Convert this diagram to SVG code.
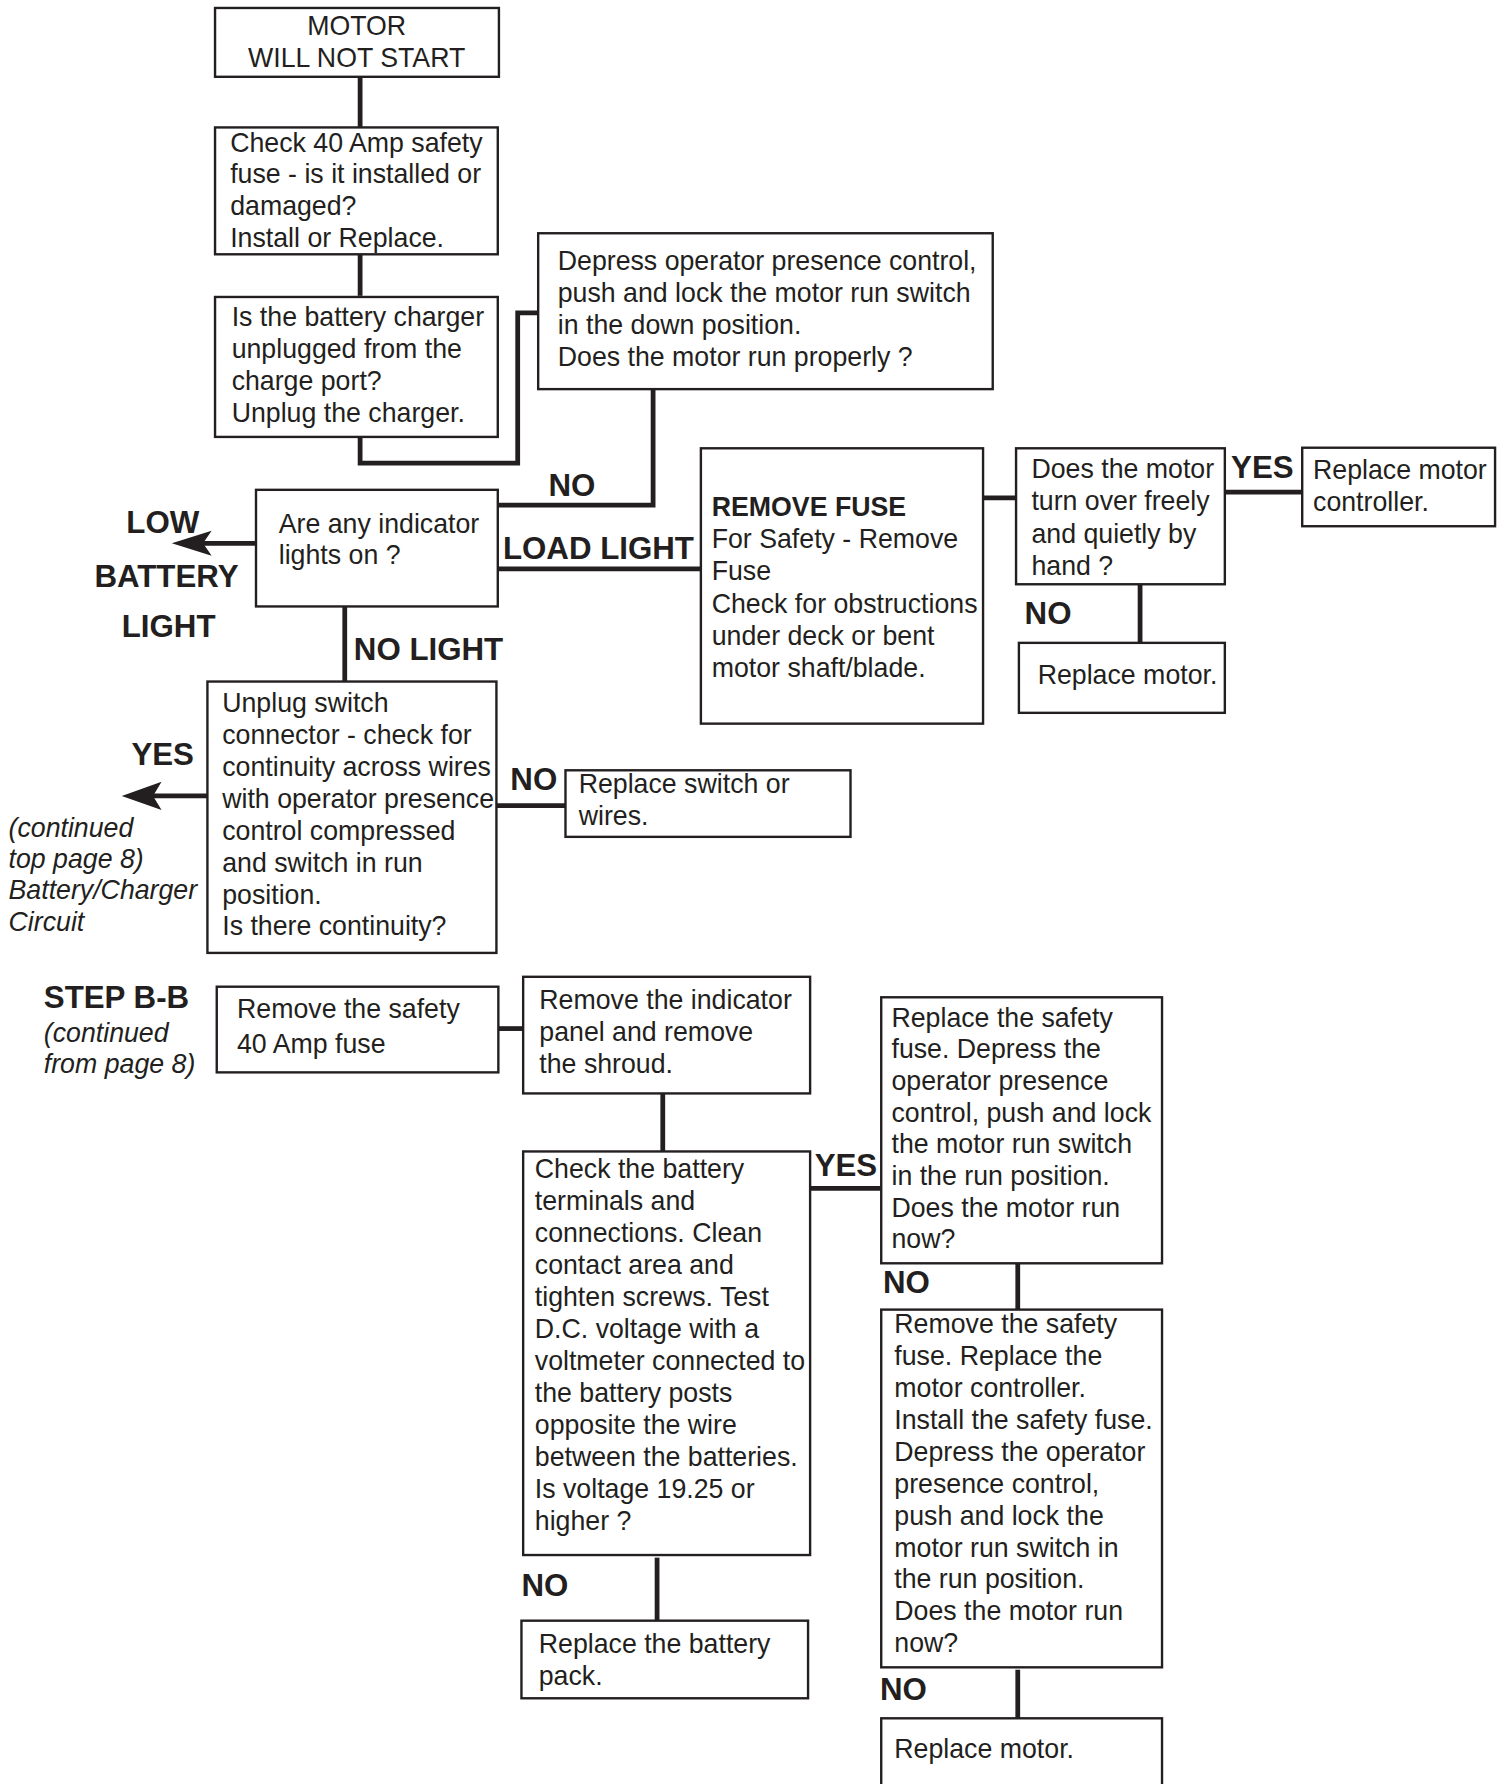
<svg xmlns="http://www.w3.org/2000/svg" width="1506" height="1784" viewBox="0 0 1506 1784">
<style>
.box{fill:#fff;stroke:#231f20;stroke-width:2.1}
.t{font-family:"Liberation Sans",Arial,Helvetica,sans-serif;font-size:23.5px;fill:#231f20}
.b{font-family:"Liberation Sans",Arial,Helvetica,sans-serif;font-size:27.5px;font-weight:bold;fill:#231f20}
.bs{font-weight:bold}
.i{font-style:italic}
.c{fill:none;stroke:#231f20;stroke-width:4.2;stroke-linejoin:miter;stroke-linecap:butt}
.ah{fill:#231f20;stroke:none}
</style>
<rect width="1506" height="1784" fill="#fff"/>
<g transform="scale(1.1378)">
<g id="connectors">
<path class="c" d="M316.5 67.5V112"/>
<path class="c" d="M316.5 223V260"/>
<path class="c" d="M316.5 383V407H455V275H473"/>
<path class="c" d="M574 341V444H437"/>
<path class="c" d="M437 500H616"/>
<path class="c" d="M864 437.5H893"/>
<path class="c" d="M1077 432.5H1144"/>
<path class="c" d="M1002 513V565"/>
<path class="c" d="M303 533V599"/>
<path class="c" d="M436 708H497"/>
<path class="c" d="M224.7 477.5H176"/>
<polygon class="ah" points="151,477.5 186,466.5 178.5,477.5 186,488.5"/>
<path class="c" d="M182 699.5H132"/>
<polygon class="ah" points="107,699.5 142,687 134.5,699.5 142,712"/>
<path class="c" d="M438 904H460"/>
<path class="c" d="M582.5 961V1012"/>
<path class="c" d="M712 1044.5H774"/>
<path class="c" d="M894.5 1110V1151"/>
<path class="c" d="M577.5 1369V1424"/>
<path class="c" d="M894.5 1467.5V1510"/>
</g>
<g id="labels">
<text class="b" x="482" y="436">NO</text>
<text class="b" x="442" y="491">LOAD LIGHT</text>
<text class="b" x="111" y="468.5">LOW</text>
<text class="b" x="83" y="515.5">BATTERY</text>
<text class="b" x="107" y="559.5">LIGHT</text>
<text class="b" x="311" y="580">NO LIGHT</text>
<text class="b" x="1082" y="420">YES</text>
<text class="b" x="900.5" y="548">NO</text>
<text class="b" x="115.5" y="672.5">YES</text>
<text class="b" x="448.5" y="694.5">NO</text>
<text class="t i" x="7.5" y="735.3">(continued</text>
<text class="t i" x="7.5" y="762.8">top page 8)</text>
<text class="t i" x="7.5" y="790.4">Battery/Charger</text>
<text class="t i" x="7.5" y="818">Circuit</text>
<text class="b" x="38.5" y="886.2">STEP B-B</text>
<text class="t i" x="38.5" y="915.5">(continued</text>
<text class="t i" x="38.5" y="943.3">from page 8)</text>
<text class="b" x="716" y="1033.6">YES</text>
<text class="b" x="776" y="1136.7">NO</text>
<text class="b" x="458.3" y="1402.7">NO</text>
<text class="b" x="773.4" y="1494.1">NO</text>
</g>
<g id="n-start">
<rect class="box" x="189" y="7" width="249.5" height="60.5"/>
<text class="t" text-anchor="middle" x="313.5" y="31">MOTOR</text>
<text class="t" text-anchor="middle" x="313.5" y="59">WILL NOT START</text>
</g>
<g id="n-fuse">
<rect class="box" x="189" y="112" width="248.5" height="111.5"/>
<text class="t" x="202.3" y="133.3">Check 40 Amp safety</text>
<text class="t" x="202.3" y="161">fuse - is it installed or</text>
<text class="t" x="202.3" y="189">damaged?</text>
<text class="t" x="202.3" y="217">Install or Replace.</text>
</g>
<g id="n-charger">
<rect class="box" x="189" y="261" width="248.5" height="123"/>
<text class="t" x="203.6" y="286.5">Is the battery charger</text>
<text class="t" x="203.6" y="314.5">unplugged from the</text>
<text class="t" x="203.6" y="342.5">charge port?</text>
<text class="t" x="203.6" y="370.5">Unplug the charger.</text>
</g>
<g id="n-depress">
<rect class="box" x="473" y="205" width="399.5" height="137"/>
<text class="t" x="490.2" y="237.5">Depress operator presence control,</text>
<text class="t" x="490.2" y="265.7">push and lock the motor run switch</text>
<text class="t" x="490.2" y="293.9">in the down position.</text>
<text class="t" x="490.2" y="322.1">Does the motor run properly ?</text>
</g>
<g id="n-indicator">
<rect class="box" x="225" y="430.5" width="212.5" height="102.5"/>
<text class="t" x="245" y="468.2">Are any indicator</text>
<text class="t" x="245" y="495.8">lights on ?</text>
</g>
<g id="n-removefuse">
<rect class="box" x="616" y="394" width="248" height="242"/>
<text class="t bs" x="625.5" y="453.4">REMOVE FUSE</text>
<text class="t" x="625.5" y="481.7">For Safety - Remove</text>
<text class="t" x="625.5" y="510">Fuse</text>
<text class="t" x="625.5" y="538.6">Check for obstructions</text>
<text class="t" x="625.5" y="567">under deck or bent</text>
<text class="t" x="625.5" y="595.4">motor shaft/blade.</text>
</g>
<g id="n-turnover">
<rect class="box" x="893" y="394" width="183.5" height="119.5"/>
<text class="t" x="906.5" y="420">Does the motor</text>
<text class="t" x="906.5" y="448.5">turn over freely</text>
<text class="t" x="906.5" y="477">and quietly by</text>
<text class="t" x="906.5" y="505.5">hand ?</text>
</g>
<g id="n-controller">
<rect class="box" x="1144.5" y="393.5" width="169.5" height="69"/>
<text class="t" x="1154" y="421">Replace motor</text>
<text class="t" x="1154" y="449.5">controller.</text>
</g>
<g id="n-motor1">
<rect class="box" x="895.5" y="565" width="181" height="61.5"/>
<text class="t" x="912" y="601.5">Replace motor.</text>
</g>
<g id="n-unplug">
<rect class="box" x="182.3" y="599" width="254" height="238.5"/>
<text class="t" x="195.3" y="625.5">Unplug switch</text>
<text class="t" x="195.3" y="653.8">connector - check for</text>
<text class="t" x="195.3" y="682">continuity across wires</text>
<text class="t" x="195.3" y="710.2">with operator presence</text>
<text class="t" x="195.3" y="738.3">control compressed</text>
<text class="t" x="195.3" y="766.3">and switch in run</text>
<text class="t" x="195.3" y="794.2">position.</text>
<text class="t" x="195.3" y="822">Is there continuity?</text>
</g>
<g id="n-switch">
<rect class="box" x="497" y="677" width="250.5" height="58.5"/>
<text class="t" x="508.6" y="697.3">Replace switch or</text>
<text class="t" x="508.6" y="725">wires.</text>
</g>
<g id="n-bb-fuse">
<rect class="box" x="190.5" y="867.2" width="247.5" height="75.3"/>
<text class="t" x="208.3" y="895">Remove the safety</text>
<text class="t" x="208.3" y="925.8">40 Amp fuse</text>
</g>
<g id="n-shroud">
<rect class="box" x="459.8" y="858.5" width="252.2" height="102.5"/>
<text class="t" x="474" y="887">Remove the indicator</text>
<text class="t" x="474" y="915">panel and remove</text>
<text class="t" x="474" y="942.8">the shroud.</text>
</g>
<g id="n-replacefuse">
<rect class="box" x="774.5" y="876.5" width="246.8" height="233.8"/>
<text class="t" x="783.5" y="902.3">Replace the safety</text>
<text class="t" x="783.5" y="930.2">fuse. Depress the</text>
<text class="t" x="783.5" y="958">operator presence</text>
<text class="t" x="783.5" y="985.9">control, push and lock</text>
<text class="t" x="783.5" y="1013.7">the motor run switch</text>
<text class="t" x="783.5" y="1041.6">in the run position.</text>
<text class="t" x="783.5" y="1069.4">Does the motor run</text>
<text class="t" x="783.5" y="1097">now?</text>
</g>
<g id="n-battery">
<rect class="box" x="459.8" y="1012" width="252.2" height="354.7"/>
<text class="t" x="470" y="1035.6">Check the battery</text>
<text class="t" x="470" y="1063.7">terminals and</text>
<text class="t" x="470" y="1091.8">connections. Clean</text>
<text class="t" x="470" y="1119.9">contact area and</text>
<text class="t" x="470" y="1148">tighten screws. Test</text>
<text class="t" x="470" y="1176.1">D.C. voltage with a</text>
<text class="t" x="470" y="1204.2">voltmeter connected to</text>
<text class="t" x="470" y="1232.3">the battery posts</text>
<text class="t" x="470" y="1260.4">opposite the wire</text>
<text class="t" x="470" y="1288.5">between the batteries.</text>
<text class="t" x="470" y="1316.6">Is voltage 19.25 or</text>
<text class="t" x="470" y="1344.7">higher ?</text>
</g>
<g id="n-controller2">
<rect class="box" x="774.5" y="1151" width="246.8" height="314.4"/>
<text class="t" x="786" y="1171.9">Remove the safety</text>
<text class="t" x="786" y="1199.9">fuse. Replace the</text>
<text class="t" x="786" y="1227.9">motor controller.</text>
<text class="t" x="786" y="1256">Install the safety fuse.</text>
<text class="t" x="786" y="1284">Depress the operator</text>
<text class="t" x="786" y="1312">presence control,</text>
<text class="t" x="786" y="1340">push and lock the</text>
<text class="t" x="786" y="1368">motor run switch in</text>
<text class="t" x="786" y="1396.1">the run position.</text>
<text class="t" x="786" y="1424.2">Does the motor run</text>
<text class="t" x="786" y="1452">now?</text>
</g>
<g id="n-pack">
<rect class="box" x="458.3" y="1424.4" width="251.9" height="68.2"/>
<text class="t" x="473.5" y="1453">Replace the battery</text>
<text class="t" x="473.5" y="1481">pack.</text>
</g>
<g id="n-motor2">
<rect class="box" x="774.5" y="1510.2" width="246.8" height="80"/>
<text class="t" x="786" y="1545.4">Replace motor.</text>
</g>
</g>
</svg>
